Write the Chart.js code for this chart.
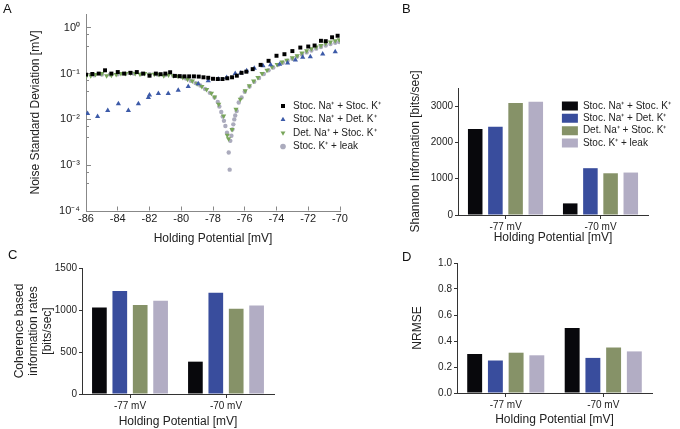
<!DOCTYPE html>
<html>
<head>
<meta charset="utf-8">
<script src="https://cdn.jsdelivr.net/npm/chart.js@4.4.1/dist/chart.umd.min.js"></script>
<style>
  html, body { margin: 0; padding: 0; background: #fff; }
  #fig { position: relative; width: 680px; height: 429px; overflow: hidden; font-family: 'Liberation Sans', Arial, sans-serif; }
  .panel { position: absolute; }
  .tag { position: absolute; font-size: 13px; line-height: 15px; color: #111; }
</style>
</head>
<body>
<div id="fig">
  <div class="panel" style="left:0;top:0;width:400px;height:246px"><canvas id="chartA"></canvas></div>
  <div class="panel" style="left:360px;top:0;width:320px;height:245px"><canvas id="chartB"></canvas></div>
  <div class="panel" style="left:0;top:250px;width:340px;height:179px"><canvas id="chartC"></canvas></div>
  <div class="panel" style="left:340px;top:250px;width:340px;height:179px"><canvas id="chartD"></canvas></div>
  <div class="tag" style="left:3px;top:1px">A</div>
  <div class="tag" style="left:402px;top:1px">B</div>
  <div class="tag" style="left:8px;top:247px">C</div>
  <div class="tag" style="left:402px;top:249px">D</div>
</div>
<script>
// 凡例・系列名
const SERIES = ['Stoc. Na⁺ + Stoc. K⁺', 'Stoc. Na⁺ + Det. K⁺', 'Det. Na⁺ + Stoc. K⁺', 'Stoc. K⁺ + leak'];
const BAR_COLORS = ['#08080c', '#394d9d', '#869268', '#b2adc4'];
const DOT_COLORS = ['#000000', '#3c5aa8', '#78a55a', '#ababbd'];

// A: noise SD vs holding potential
const SS_X = [-86.0,-85.6,-85.2,-84.8,-84.4,-84.0,-83.6,-83.2,-82.8,-82.4,-82.0,-81.6,-81.3,-81.0,-80.7,-80.4,-80.1,-79.8,-79.5,-79.2,-78.9,-78.6,-78.3,-78.0,-77.7,-77.4,-77.1,-76.8,-76.5,-76.2,-75.9,-75.5,-75.0,-74.5,-74.0,-73.5,-73.0,-72.5,-72.0,-71.6,-71.2,-70.9,-70.5,-70.15];
const SS_Y = [0.095,0.098,0.1,0.118,0.1,0.108,0.1,0.104,0.108,0.1,0.09,0.1,0.097,0.1,0.107,0.089,0.088,0.087,0.087,0.087,0.086,0.083,0.081,0.077,0.076,0.076,0.079,0.083,0.09,0.104,0.11,0.125,0.155,0.19,0.245,0.265,0.31,0.37,0.39,0.41,0.52,0.51,0.62,0.67];

const SD_X = [-85.9,-85.27,-84.63,-83.96,-83.33,-82.7,-82.07,-82.0,-81.44,-80.82,-80.19,-79.56,-78.93,-78.3,-77.67,-77.14,-76.6,-76.25,-75.88,-75.4,-74.85,-74.37,-73.8,-73.3,-72.81,-72.35,-71.87,-71.09,-70.3];
const SD_Y = [0.0135,0.0115,0.0157,0.022,0.0157,0.022,0.03,0.034,0.0367,0.0367,0.0435,0.052,0.06,0.07,0.076,0.082,0.1,0.103,0.115,0.13,0.148,0.156,0.16,0.17,0.198,0.227,0.234,0.268,0.3];

const DS_X = [-86.0,-85.7,-85.4,-85.0,-84.7,-84.4,-84.1,-83.8,-83.5,-83.2,-82.9,-82.6,-82.3,-82.0,-81.7,-81.4,-81.1,-80.8,-80.5,-80.2,-79.9,-79.6,-79.3,-79.0,-78.7,-78.4,-78.1,-77.9,-77.64,-77.33,-77.1,-77.02,-76.8,-76.55,-76.28,-75.97,-75.71,-75.44,-75.17,-74.91,-74.6,-74.28,-73.96,-73.65,-73.35,-73.0,-72.7,-72.4,-72.1,-71.8,-71.5,-71.2,-70.9,-70.6,-70.3,-70.05];
const DS_Y = [0.088,0.09,0.095,0.1,0.09,0.092,0.095,0.1,0.1,0.103,0.1,0.097,0.1,0.094,0.097,0.095,0.09,0.093,0.09,0.088,0.082,0.075,0.069,0.06,0.052,0.045,0.037,0.031,0.0213,0.0119,0.0045,0.0038,0.006,0.0166,0.0276,0.042,0.054,0.069,0.082,0.1,0.118,0.14,0.158,0.178,0.195,0.222,0.245,0.28,0.315,0.35,0.38,0.41,0.46,0.49,0.52,0.55];

const KL_X = [-86.0,-85.5,-85.0,-84.5,-84.0,-83.5,-83.0,-82.5,-82.0,-81.5,-81.0,-80.5,-80.0,-79.7,-79.4,-79.1,-78.8,-78.5,-78.2,-77.9,-77.7,-77.6,-77.48,-77.39,-77.31,-77.22,-77.12,-77.01,-76.95,-76.91,-76.84,-76.78,-76.72,-76.66,-76.6,-76.51,-76.38,-76.2,-76.0,-75.7,-75.4,-75.1,-74.8,-74.5,-74.2,-73.9,-73.6,-73.3,-73.0,-72.7,-72.4,-72.1,-71.8,-71.5,-71.2,-70.9,-70.6,-70.3,-70.05];
const KL_Y = [0.09,0.092,0.095,0.095,0.097,0.1,0.1,0.098,0.097,0.095,0.093,0.09,0.085,0.078,0.07,0.062,0.055,0.046,0.038,0.03,0.024,0.0191,0.0145,0.0115,0.0093,0.0072,0.0051,0.0019,0.0008,0.0034,0.0044,0.006,0.0078,0.01,0.0122,0.0152,0.0233,0.03,0.04,0.052,0.066,0.08,0.098,0.118,0.135,0.155,0.172,0.19,0.21,0.235,0.26,0.29,0.32,0.35,0.38,0.41,0.44,0.47,0.49];

const A_X_TICKS = [-86,-84,-82,-80,-78,-76,-74,-72,-70];
const A_Y_TICKS = [1e-4, 1e-3, 1e-2, 1e-1, 1];
const A_Y_LABELS = ['10⁻⁴', '10⁻³', '10⁻²', '10⁻¹', '10⁰'];

// B, C, D: 棒グラフ（系列ごと、[-77 mV, -70 mV]）
const GROUPS = ['-77 mV', '-70 mV'];
const SHANNON = [[2370, 320], [2430, 1290], [3090, 1150], [3120, 1170]];
const COHERENCE = [[1030, 385], [1225, 1205], [1060, 1015], [1110, 1055]];
const NRMSE = [[0.30, 0.50], [0.25, 0.27], [0.31, 0.35], [0.29, 0.32]];
const SHANNON_TICKS = [0, 1000, 2000, 3000];
const COHERENCE_TICKS = [0, 500, 1000, 1500];
const NRMSE_TICKS = [0, 0.2, 0.4, 0.6, 0.8, 1.0];

Chart.defaults.font.family = "'Liberation Sans', Arial, sans-serif";
Chart.defaults.color = '#222';

const TEXT = '#222';
const AXIS = '#333';

// 凡例を任意の位置へ
function legendAt(x, y) {
    return {
        id: 'legendAt',
        beforeDraw(chart) {
            const lg = chart.legend;
            if (!lg) return;
            const w = lg.width, h = lg.height;
            lg.left = x; lg.top = y; lg.right = x + w; lg.bottom = y + h;
        }
    };
}

// A: 散布図（対数）
const scatterSets = [[SS_X, SS_Y, 'rect', 2.8, 0], [SD_X, SD_Y, 'triangle', 3, 0], [DS_X, DS_Y, 'triangle', 3, 180], [KL_X, KL_Y, 'circle', 2.2, 0]];
const minorLog = [];
A_Y_TICKS.slice(0, -1).forEach(d => { for (let m = 2; m <= 9; m++) minorLog.push(+(d * m).toPrecision(3)); });

new Chart(document.getElementById('chartA'), {
    type: 'scatter',
    data: {
        datasets: scatterSets.map(([xs, ys, st, r, rot], i) => ({
            label: SERIES[i],
            data: xs.map((x, j) => ({ x, y: ys[j] })),
            pointStyle: st,
            pointRadius: r,
            pointRotation: rot,
            pointBorderWidth: 0,
            backgroundColor: DOT_COLORS[i],
            borderColor: DOT_COLORS[i]
        }))
    },
    options: {
        responsive: true,
        maintainAspectRatio: false,
        animation: false,
        layout: { padding: { left: 24, right: 60, top: 14, bottom: 0 } },
        plugins: {
            tooltip: { enabled: false },
            legend: {
                position: 'chartArea',
                align: 'start',
                labels: { usePointStyle: true, boxWidth: 10, boxHeight: 4, padding: 3.5, color: TEXT, font: { size: 10 } }
            }
        },
        scales: {
            x: {
                type: 'linear', min: -86, max: -70,
                afterFit: s => { s.height = 35; },
                afterBuildTicks: s => { s.ticks = A_X_TICKS.map(v => ({ value: v })); },
                ticks: { padding: 1, color: TEXT, font: { size: 11 }, callback: v => String(v) },
                grid: { drawTicks: false, color: '#888', lineWidth: 1 },
                border: {
                    color: '#888',
                    dash: c => {
                        const a = c.chart.chartArea;
                        const h = a ? a.bottom - a.top : 200;
                        return [0, h - 4.5, 4, 2000];
                    }
                },
                title: { display: true, text: 'Holding Potential [mV]', color: TEXT, font: { size: 12 }, padding: { top: 4, bottom: 0 } }
            },
            y: {
                type: 'logarithmic', min: 1e-4, max: 2,
                afterFit: s => { s.width = 62; },
                afterBuildTicks: s => {
                    s.ticks = A_Y_TICKS.concat(minorLog).sort((a, b) => a - b).map(v => ({ value: v }));
                },
                ticks: {
                    padding: 6, color: TEXT, font: { size: 11 },
                    callback: v => { const k = A_Y_TICKS.indexOf(v); return k < 0 ? '' : A_Y_LABELS[k]; }
                },
                grid: { drawTicks: false, color: '#888', lineWidth: 1 },
                border: {
                    color: '#888',
                    dash: c => (c.tick && A_Y_TICKS.indexOf(c.tick.value) < 0) ? [2, 2000] : [4, 2000]
                },
                title: { display: true, text: 'Noise Standard Deviation [mV]', color: TEXT, font: { size: 12 }, padding: { top: 4, bottom: 0 } }
            }
        }
    },
    plugins: [legendAt(274.5, 97.5)]
});

// 棒グラフ共通
function makeBar(id, values, yMax, yTicks, fmt, yTitle, pad, yWidth, xHeight, legend) {
    return new Chart(document.getElementById(id), {
        type: 'bar',
        data: {
            labels: GROUPS,
            datasets: values.map((v, i) => ({
                label: SERIES[i],
                data: v,
                backgroundColor: BAR_COLORS[i],
                borderWidth: 0,
                categoryPercentage: 0.85,
                barPercentage: 0.72
            }))
        },
        options: {
            responsive: true,
            maintainAspectRatio: false,
            animation: false,
            layout: { padding: pad },
            plugins: {
                tooltip: { enabled: false },
                legend: legend ? {
                    position: 'chartArea',
                    align: 'start',
                    labels: { boxWidth: 16, boxHeight: 9, padding: 2.4, color: TEXT, font: { size: 10 } }
                } : { display: false }
            },
            scales: {
                x: {
                    offset: true,
                    afterFit: s => { s.height = xHeight; },
                    grid: { offset: false, drawOnChartArea: false, tickLength: 4, color: AXIS },
                    border: { color: AXIS, width: 1 },
                    ticks: { padding: 2, color: TEXT, font: { size: 10 } },
                    title: { display: true, text: 'Holding Potential [mV]', color: TEXT, font: { size: 12 }, padding: { top: 4, bottom: 0 } }
                },
                y: {
                    min: 0, max: yMax,
                    afterFit: s => { s.width = yWidth; },
                    afterBuildTicks: s => { s.ticks = yTicks.map(v => ({ value: v })); },
                    grid: { drawOnChartArea: false, tickLength: 3, color: AXIS },
                    border: { color: AXIS, width: 1 },
                    ticks: { padding: 2, color: TEXT, font: { size: 10 }, callback: fmt },
                    title: { display: true, text: yTitle, color: TEXT, font: { size: 12 }, padding: { top: 4, bottom: 0 } }
                }
            }
        },
        plugins: legend ? [legendAt(legend[0], legend[1])] : []
    });
}

makeBar('chartB', SHANNON, 3500, SHANNON_TICKS, v => String(v), 'Shannon Information [bits/sec]',
    { left: 44, right: 32, top: 88, bottom: 0 }, 54, 30, [199.5, 98.5]);
makeBar('chartC', COHERENCE, 1500, COHERENCE_TICKS, v => String(v), ['Coherence based', 'information rates', '[bits/sec]'],
    { left: 8, right: 66, top: 18, bottom: 0 }, 74, 35, null);
makeBar('chartD', NRMSE, 1.0, NRMSE_TICKS, v => v.toFixed(1), 'NRMSE',
    { left: 66, right: 28, top: 13, bottom: 2 }, 51, 34, null);
</script>
</body>
</html>
